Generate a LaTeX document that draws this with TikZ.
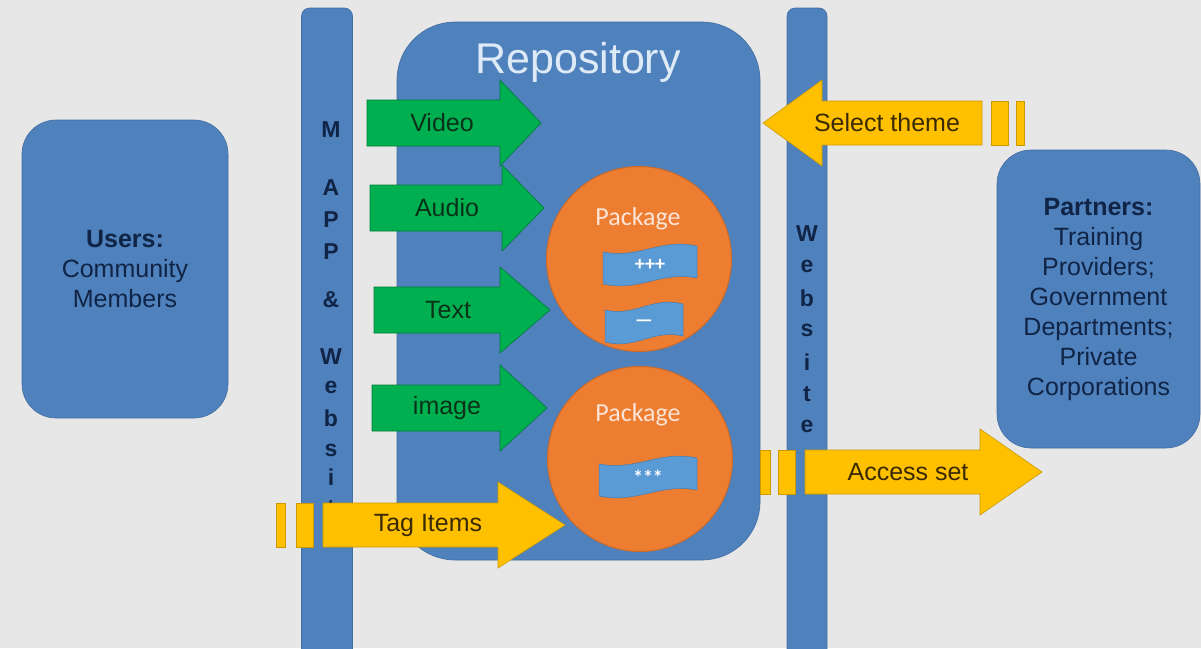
\documentclass[tikz,border=0pt]{standalone}
\usepackage{fontspec}
\setmainfont{Liberation Sans}
\newfontfamily\pkgfont[Ligatures=TeX]{Carlito}
\usetikzlibrary{positioning}
\definecolor{boxblue}{RGB}{79,129,189}
\definecolor{bggray}{RGB}{231,231,231}
\definecolor{navytext}{RGB}{16,36,70}
\definecolor{arrgreen}{RGB}{0,176,80}
\definecolor{greentext}{RGB}{10,50,24}
\definecolor{arryellow}{RGB}{255,192,0}
\definecolor{browntext}{RGB}{58,42,4}
\definecolor{pkgorange}{RGB}{237,125,49}
\definecolor{pkgtext}{RGB}{252,228,214}
\definecolor{flagblue}{RGB}{91,155,213}
\definecolor{titlewhite}{RGB}{222,235,247}

\begin{document}
\begin{tikzpicture}[
    x=1pt,y=-1pt,
    box/.style={draw=boxblue!85!black,line width=.6pt,fill=boxblue,rounded corners=34pt,align=center,text=navytext,font=\fontsize{25}{30}\selectfont},
    bar/.style={draw=boxblue!85!black,line width=.6pt,fill=boxblue,rounded corners=8pt},
    letter/.style={font=\fontsize{23}{23}\selectfont\bfseries,text=navytext,inner sep=0pt},
    garrow/.style={draw=arrgreen!70!black,line width=.6pt,fill=arrgreen},
    yarrow/.style={draw=arryellow!80!black,line width=.6pt,fill=arryellow},
    atext/.style={font=\fontsize{25}{25}\selectfont,inner sep=0pt},
    pkg/.style={circle,draw=pkgorange!85!black,line width=1pt,fill=pkgorange,minimum size=185pt,inner sep=0pt},
    pkglabel/.style={font=\pkgfont\fontsize{26}{26}\selectfont,text=pkgtext,inner sep=0pt},
    flag/.style={draw=flagblue!80!black,line width=.5pt,fill=flagblue},
    flagtext/.style={font=\pkgfont\bfseries\fontsize{20}{20}\selectfont,text=white,inner sep=0pt}
  ]
    \fill[bggray] (0,0) rectangle (1201,648);
    \useasboundingbox (0,0) rectangle (1201,648);

    % users and partners
    \node[box,minimum width=206pt,minimum height=298pt] (users) at (125,269) {\textbf{Users:}\\Community\\Members};
    \node[box,minimum width=203pt,minimum height=298pt] (partners) at (1098.5,299)
      {\textbf{Partners:}\\Training\\Providers;\\Government\\Departments;\\Private\\Corporations};

    % repository
    \node[box,rounded corners=58pt,minimum width=363pt,minimum height=538pt] (repo) at (578.5,291) {};
    \node[font=\fontsize{43}{43}\selectfont,text=titlewhite,inner sep=0pt] (repotitle) at (578,62) {Repository};

    % the two channels
    \node[bar,minimum width=51pt,minimum height=660pt] (appbar) at (327,338) {};
    \node[bar,minimum width=40pt,minimum height=660pt] (webbar) at (807,338) {};
    \foreach \ch/\yy [count=\i] in {M/130,A/188,P/220,P/252,\&/300,W/357,e/387,b/418,s/450,i/477,t/508,e/538}
      {\node[letter] (la\i) at (331,\yy) {\ch};}
    \foreach \ch [count=\i] in {W,e,b,s,i,t,e}
      {\node[letter] (lw\i) at (807,202+32*\i) {\ch};}

    % media into the repository
    \foreach \n/\lab/\yy/\xa/\xb/\xc/\tx in {video/Video/123/367/500/541/442,audio/Audio/208/370/502/544/447,
        textitem/Text/310/374/500/550/448,image/image/408/372/500/547/447} {
      \draw[garrow] (\xa,\yy-23) -- (\xb,\yy-23) -- (\xb,\yy-43) -- (\xc,\yy) -- (\xb,\yy+43) -- (\xb,\yy+23) -- (\xa,\yy+23) -- cycle;
      \node[atext,text=greentext] (\n) at (\tx,\yy) {\lab};
    }

    % packages
    \node[pkg] (pkga) at (639,259) {};
    \node[pkg] (pkgb) at (640,459) {};
    \node[pkglabel] (pkgalabel) at (638,219) {Package};
    \node[pkglabel] (pkgblabel) at (638,415) {Package};
    \foreach \n/\fx/\fy/\fw/\ft in {flaga/650/265/94/+++,flagb/644/323/78/---,flagc/648/477/98/***} {
      \draw[flag] (\fx-\fw/2,\fy-13) .. controls (\fx-.1*\fw,\fy-6) and (\fx+.1*\fw,\fy-27) .. (\fx+\fw/2,\fy-19)
        -- (\fx+\fw/2,\fy+13) .. controls (\fx+.1*\fw,\fy+6) and (\fx-.1*\fw,\fy+27) .. (\fx-\fw/2,\fy+19) -- cycle;
      \node[flagtext] (\n) at (\fx,\fy) {\ft};
    }

    % yellow arrows
    \foreach \n/\lab/\yy/\xa/\xb/\xc/\tx in {tag/Tag Items/525/323/498/565/428,theme/Select theme/123/982/822/763/887,
        access/Access set/472/805/980/1042/908} {
      \draw[yarrow] (\xa,\yy-22) -- (\xb,\yy-22) -- (\xb,\yy-43) -- (\xc,\yy) -- (\xb,\yy+43) -- (\xb,\yy+22) -- (\xa,\yy+22) -- cycle;
      \node[atext,text=browntext] (\n) at (\tx,\yy) {\lab};
    }
    \foreach \sa/\sb/\yy in {276/285/525,296/313/525,991/1008/123,1016/1024/123,760/770/472,778/795/472}
      {\draw[yarrow] (\sa,\yy-22) rectangle (\sb,\yy+22);}
\end{tikzpicture}
\end{document}
